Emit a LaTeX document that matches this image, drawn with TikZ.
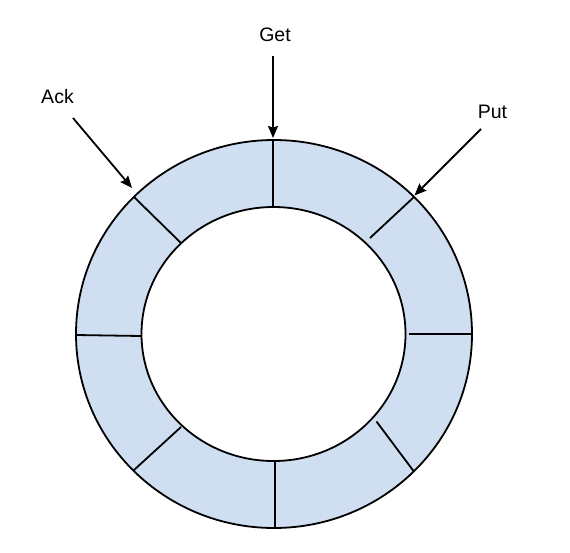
\documentclass[tikz,border=0pt]{standalone}
\usepackage{fontspec}
\setmainfont{Liberation Sans}
\usetikzlibrary{arrows.meta}
\definecolor{slotblue}{RGB}{207,222,240}
\begin{document}
\begin{tikzpicture}[x=1pt, y=-1pt, line width=1.8pt,
    >={Stealth[length=12pt, width=10pt, inset=1.5pt]},
    lbl/.style={font=\fontsize{19.5}{23}\selectfont}]
  \useasboundingbox (0,0) rectangle (570,552);

  % ring
  \fill[slotblue, even odd rule] (274,334) ellipse [x radius=198pt, y radius=194pt]
    (273.5,334) ellipse [x radius=132pt, y radius=127pt];
  \draw (274,334) ellipse [x radius=198pt, y radius=194pt];
  \draw (273.5,334) ellipse [x radius=132pt, y radius=127pt];

  % slot borders
  \coordinate (T1) at (273,140);   \coordinate (T2) at (273,207);
  \coordinate (TR1) at (414,197);  \coordinate (TR2) at (370,238);
  \coordinate (R1) at (472,334);   \coordinate (R2) at (409,334);
  \coordinate (BR1) at (413.5,471); \coordinate (BR2) at (376.5,421.5);
  \coordinate (B1) at (275,527);   \coordinate (B2) at (275,461);
  \coordinate (BL1) at (134,470);  \coordinate (BL2) at (181,427);
  \coordinate (L1) at (76,335);    \coordinate (L2) at (141,336);
  \coordinate (TL1) at (134,197);  \coordinate (TL2) at (181,243);

  \draw (T1) -- (T2);
  \draw (TR1) -- (TR2);
  \draw (R1) -- (R2);
  \draw (BR1) -- (BR2);
  \draw (B1) -- (B2);
  \draw (BL1) -- (BL2);
  \draw (L1) -- (L2);
  \draw (TL1) -- (TL2);

  % pointers
  \node[lbl] (get) at (275,35) {Get};
  \node[lbl] (put) at (492.5,112) {Put};
  \node[lbl] (ack) at (57.5,97) {Ack};

  \coordinate (getS) at (273,56);
  \coordinate (putS) at (481,129);
  \coordinate (ackS) at (73,118);
  \coordinate (getE) at (273,138);
  \coordinate (putE) at (414.5,195.5);
  \coordinate (ackE) at (132,188);

  \draw[->] (getS) -- (getE);
  \draw[->] (putS) -- (putE);
  \draw[->] (ackS) -- (ackE);
\end{tikzpicture}
\end{document}
